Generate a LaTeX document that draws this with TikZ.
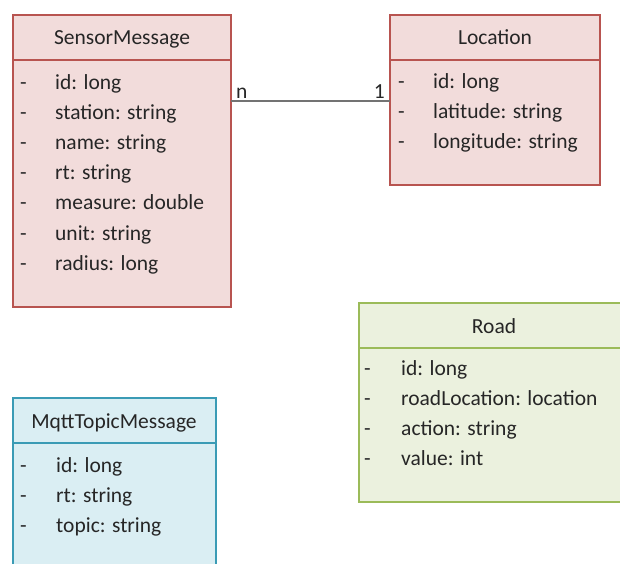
\documentclass[tikz,border=0pt]{standalone}
\usepackage{fontspec}
\setmainfont{Carlito}
\begin{document}
\begin{tikzpicture}[x=1pt,y=-1pt,
  txt/.style={font=\fontsize{21.5}{24}\selectfont, text=black!85, inner sep=0pt, anchor=base west},
  ttl/.style={font=\fontsize{21.5}{24}\selectfont, text=black!85, inner sep=0pt, anchor=base},
  pinkbox/.style={fill=pinkfill, draw=pinkline, line width=1.3pt},
  greenbox/.style={fill=greenfill, draw=greenline, line width=1.3pt},
  bluebox/.style={fill=bluefill, draw=blueline, line width=1.3pt},
  link/.style={draw=black!55, line width=1.3pt}]
\definecolor{pinkfill}{HTML}{F2DCDB}
\definecolor{pinkline}{HTML}{B85450}
\definecolor{greenfill}{HTML}{EBF1DE}
\definecolor{greenline}{HTML}{9BBB59}
\definecolor{bluefill}{HTML}{DAEEF3}
\definecolor{blueline}{HTML}{3A9BB5}
\useasboundingbox (0,0) rectangle (620,563);
\clip (0,0) rectangle (620,563);

% SensorMessage class
\path[pinkbox] (13,15) rectangle (231,307);
\draw[pinkline, line width=1.3pt] (13,60) -- (231,60);
\node[ttl] (smt) at (122,44) {SensorMessage};
\foreach \t [count=\i from 0] in {id: long, station: string, name: string, rt: string, measure: double, unit: string, radius: long} {
  \node[txt] (smd\i) at (20,{89+30.2*\i}) {-};
  \node[txt] (sma\i) at (55,{89+30.2*\i}) {\t};
}
\coordinate (smR) at (231,101);

% Location class
\path[pinkbox] (390,15) rectangle (600,185);
\draw[pinkline, line width=1.3pt] (390,60) -- (600,60);
\node[ttl] (loct) at (495,44) {Location};
\foreach \t [count=\i from 0] in {id: long, latitude: string, longitude: string} {
  \node[txt] (locd\i) at (398,{88+30*\i}) {-};
  \node[txt] (loca\i) at (433,{88+30*\i}) {\t};
}
\coordinate (locL) at (390,101);

% association SensorMessage -- Location
\draw[link] (smR) -- (locL);
\node[txt] (mn) at (236,98) {n};
\node[txt, anchor=base east] (m1) at (385,98) {1};

% Road class
\path[greenbox] (359,303) rectangle (640,502);
\draw[greenline, line width=1.3pt] (359,348) -- (640,348);
\node[ttl] (roadt) at (494,333) {Road};
\foreach \t [count=\i from 0] in {id: long, roadLocation: location, action: string, value: int} {
  \node[txt] (roadd\i) at (364,{375+30*\i}) {-};
  \node[txt] (roada\i) at (401,{375+30*\i}) {\t};
}

% MqttTopicMessage class
\path[bluebox] (13,398) rectangle (216,600);
\draw[blueline, line width=1.3pt] (13,443) -- (216,443);
\node[ttl] (mqt) at (114,428) {MqttTopicMessage};
\foreach \t [count=\i from 0] in {id: long, rt: string, topic: string} {
  \node[txt] (mqd\i) at (20,{472+30*\i}) {-};
  \node[txt] (mqa\i) at (56,{472+30*\i}) {\t};
}
\end{tikzpicture}
\end{document}
